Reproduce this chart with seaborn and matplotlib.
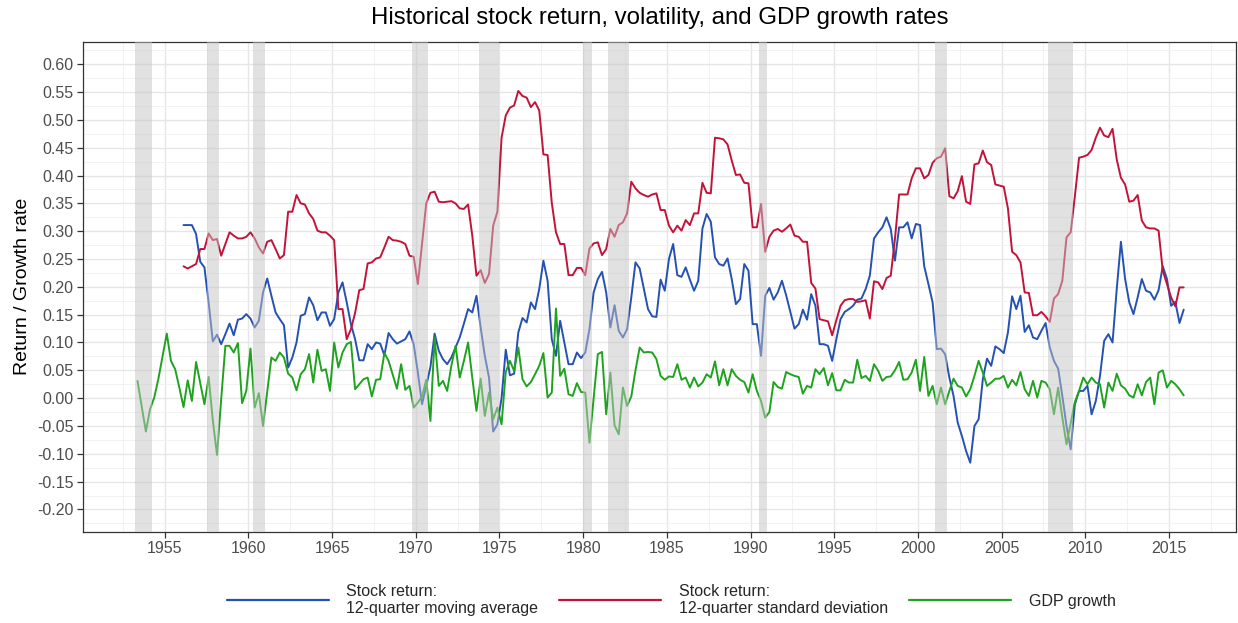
import numpy as np
import pandas as pd
import matplotlib
matplotlib.use("Agg")
import matplotlib.pyplot as plt
import seaborn as sns
from matplotlib.ticker import MultipleLocator, FuncFormatter
from matplotlib.lines import Line2D

# ---------------- data ----------------
gdp_start = 1953.375        # first quarterly observation of GDP growth
stock_start = 1956.125      # first quarterly observation of the stock series

gdp_growth = [
    0.031, -0.015, -0.060, -0.020, 0.001, 0.035, 0.075, 0.116, 0.067, 0.052,
    0.019, -0.016, 0.032, -0.005, 0.065, 0.027, -0.011, 0.038, -0.040, -0.102,
    -0.002, 0.094, 0.094, 0.082, 0.099, -0.009, 0.013, 0.089, -0.017, 0.009,
    -0.050, 0.012, 0.073, 0.067, 0.082, 0.073, 0.044, 0.037, 0.014, 0.043,
    0.052, 0.079, 0.028, 0.087, 0.049, 0.052, 0.013, 0.100, 0.055, 0.082,
    0.097, 0.101, 0.016, 0.025, 0.034, 0.037, 0.003, 0.033, 0.034, 0.081,
    0.067, 0.042, 0.017, 0.061, 0.015, 0.022, -0.017, -0.008, 0.003, 0.033,
    -0.041, 0.109, 0.022, 0.031, 0.013, 0.058, 0.094, 0.037, 0.067, 0.100,
    0.037, -0.023, 0.035, -0.032, 0.010, -0.038, -0.017, -0.047, 0.047, 0.067,
    0.049, 0.091, 0.034, 0.021, 0.029, 0.043, 0.058, 0.081, 0.001, 0.010,
    0.161, 0.040, 0.053, 0.007, 0.004, 0.027, 0.011, 0.010, -0.080, 0.000,
    0.079, 0.083, -0.029, 0.046, -0.049, -0.065, 0.019, -0.014, 0.003, 0.050,
    0.091, 0.082, 0.083, 0.082, 0.070, 0.040, 0.033, 0.039, 0.038, 0.061,
    0.033, 0.037, 0.019, 0.037, 0.021, 0.028, 0.043, 0.037, 0.066, 0.023,
    0.052, 0.023, 0.052, 0.040, 0.033, 0.029, 0.010, 0.043, 0.013, -0.005,
    -0.035, -0.025, 0.029, 0.020, 0.017, 0.047, 0.043, 0.040, 0.038, 0.008,
    0.022, 0.019, 0.052, 0.043, 0.054, 0.023, 0.045, 0.014, 0.014, 0.033,
    0.028, 0.028, 0.069, 0.036, 0.040, 0.031, 0.061, 0.049, 0.031, 0.038,
    0.039, 0.050, 0.065, 0.033, 0.034, 0.046, 0.069, 0.013, 0.074, 0.004,
    0.022, -0.011, 0.019, -0.011, 0.013, 0.035, 0.022, 0.019, 0.003, 0.016,
    0.040, 0.067, 0.046, 0.022, 0.028, 0.035, 0.035, 0.040, 0.019, 0.033,
    0.023, 0.047, 0.016, 0.004, 0.031, 0.001, 0.031, 0.028, 0.016, -0.029,
    0.019, -0.035, -0.083, -0.045, -0.007, 0.013, 0.037, 0.025, 0.037, 0.028,
    0.025, -0.017, 0.028, 0.013, 0.044, 0.023, 0.017, 0.005, 0.001, 0.025,
    0.005, 0.029, 0.037, -0.011, 0.046, 0.050, 0.019, 0.031, 0.025, 0.016,
    0.005,
]

return_ma = [
    0.311, 0.311, 0.311, 0.295, 0.245, 0.235, 0.172, 0.102, 0.114, 0.097,
    0.115, 0.134, 0.113, 0.141, 0.143, 0.151, 0.143, 0.127, 0.139, 0.190,
    0.215, 0.184, 0.154, 0.142, 0.131, 0.055, 0.073, 0.100, 0.148, 0.151,
    0.181, 0.167, 0.140, 0.154, 0.154, 0.130, 0.142, 0.190, 0.208, 0.172,
    0.133, 0.106, 0.068, 0.068, 0.097, 0.088, 0.100, 0.098, 0.077, 0.117,
    0.106, 0.098, 0.102, 0.106, 0.120, 0.097, 0.046, -0.011, 0.022, 0.056,
    0.116, 0.085, 0.070, 0.061, 0.073, 0.091, 0.109, 0.134, 0.160, 0.154,
    0.184, 0.127, 0.076, 0.037, -0.060, -0.047, 0.000, 0.087, 0.041, 0.044,
    0.118, 0.144, 0.136, 0.172, 0.160, 0.196, 0.247, 0.211, 0.106, 0.076,
    0.139, 0.100, 0.061, 0.061, 0.082, 0.072, 0.082, 0.124, 0.190, 0.214,
    0.227, 0.190, 0.127, 0.167, 0.121, 0.109, 0.124, 0.181, 0.244, 0.233,
    0.196, 0.160, 0.147, 0.146, 0.213, 0.193, 0.250, 0.277, 0.221, 0.218,
    0.235, 0.213, 0.193, 0.211, 0.305, 0.331, 0.317, 0.253, 0.241, 0.238,
    0.251, 0.214, 0.169, 0.178, 0.241, 0.229, 0.133, 0.133, 0.076, 0.184,
    0.198, 0.177, 0.190, 0.211, 0.185, 0.155, 0.125, 0.133, 0.159, 0.141,
    0.187, 0.166, 0.097, 0.097, 0.094, 0.067, 0.106, 0.142, 0.155, 0.160,
    0.166, 0.177, 0.179, 0.196, 0.220, 0.287, 0.298, 0.307, 0.325, 0.304,
    0.247, 0.307, 0.307, 0.316, 0.287, 0.313, 0.311, 0.237, 0.205, 0.172,
    0.088, 0.089, 0.079, 0.037, 0.004, -0.044, -0.068, -0.095, -0.116, -0.050,
    -0.038, 0.034, 0.071, 0.058, 0.093, 0.088, 0.081, 0.118, 0.183, 0.160,
    0.184, 0.119, 0.131, 0.109, 0.106, 0.121, 0.135, 0.091, 0.067, 0.053,
    0.004, -0.050, -0.092, -0.011, 0.013, 0.013, 0.022, -0.029, -0.005, 0.040,
    0.103, 0.115, 0.100, 0.196, 0.281, 0.214, 0.172, 0.151, 0.181, 0.214,
    0.193, 0.190, 0.177, 0.194, 0.237, 0.214, 0.166, 0.173, 0.135, 0.159,
]

return_sd = [
    0.237, 0.233, 0.237, 0.241, 0.268, 0.268, 0.296, 0.284, 0.286, 0.256,
    0.277, 0.298, 0.292, 0.287, 0.287, 0.290, 0.298, 0.287, 0.271, 0.260,
    0.281, 0.284, 0.268, 0.251, 0.257, 0.335, 0.335, 0.365, 0.350, 0.348,
    0.332, 0.322, 0.301, 0.298, 0.298, 0.292, 0.284, 0.160, 0.160, 0.106,
    0.124, 0.153, 0.194, 0.196, 0.242, 0.244, 0.251, 0.253, 0.271, 0.290,
    0.284, 0.283, 0.281, 0.277, 0.256, 0.254, 0.205, 0.277, 0.350, 0.369,
    0.371, 0.353, 0.352, 0.353, 0.354, 0.350, 0.341, 0.340, 0.348, 0.292,
    0.220, 0.230, 0.207, 0.223, 0.310, 0.335, 0.468, 0.508, 0.522, 0.526,
    0.552, 0.543, 0.540, 0.523, 0.532, 0.517, 0.438, 0.437, 0.351, 0.298,
    0.277, 0.277, 0.221, 0.221, 0.234, 0.234, 0.221, 0.269, 0.278, 0.280,
    0.257, 0.268, 0.304, 0.290, 0.311, 0.316, 0.332, 0.389, 0.377, 0.369,
    0.365, 0.362, 0.366, 0.368, 0.338, 0.338, 0.310, 0.298, 0.310, 0.301,
    0.320, 0.311, 0.332, 0.332, 0.387, 0.369, 0.368, 0.468, 0.467, 0.465,
    0.456, 0.427, 0.401, 0.402, 0.387, 0.386, 0.307, 0.307, 0.349, 0.263,
    0.290, 0.301, 0.304, 0.299, 0.305, 0.312, 0.292, 0.290, 0.281, 0.281,
    0.207, 0.197, 0.142, 0.140, 0.138, 0.113, 0.140, 0.166, 0.176, 0.178,
    0.178, 0.173, 0.174, 0.176, 0.143, 0.210, 0.208, 0.196, 0.216, 0.220,
    0.286, 0.366, 0.366, 0.366, 0.395, 0.413, 0.413, 0.395, 0.401, 0.423,
    0.431, 0.434, 0.449, 0.363, 0.359, 0.372, 0.399, 0.353, 0.349, 0.420,
    0.422, 0.445, 0.424, 0.419, 0.384, 0.382, 0.380, 0.341, 0.263, 0.257,
    0.244, 0.190, 0.189, 0.149, 0.149, 0.155, 0.147, 0.137, 0.179, 0.187,
    0.211, 0.289, 0.298, 0.363, 0.432, 0.434, 0.437, 0.446, 0.468, 0.486,
    0.472, 0.469, 0.484, 0.429, 0.396, 0.384, 0.353, 0.355, 0.365, 0.319,
    0.307, 0.305, 0.305, 0.301, 0.229, 0.205, 0.181, 0.165, 0.199, 0.199,
]

recession_start = [1953.25, 1957.50, 1960.25, 1969.75, 1973.75, 1980.00,
                   1981.50, 1990.50, 2001.00, 2007.75]
recession_end = [1954.25, 1958.25, 1961.00, 1970.75, 1975.00, 1980.50,
                 1982.75, 1991.00, 2001.75, 2009.25]

series_labels = ["Stock return:\n12-quarter moving average",
                 "Stock return:\n12-quarter standard deviation",
                 "GDP growth"]
series_colors = ["#2451b2", "#c2133a", "#1fa31f"]

title = "Historical stock return, volatility, and GDP growth rates"
y_label = "Return / Growth rate"
x_ticks = [1955, 1960, 1965, 1970, 1975, 1980, 1985, 1990, 1995, 2000, 2005, 2010, 2015]
y_ticks = [-0.20, -0.15, -0.10, -0.05, 0.00, 0.05, 0.10, 0.15, 0.20,
           0.25, 0.30, 0.35, 0.40, 0.45, 0.50, 0.55, 0.60]

# ---------------- tidy frame ----------------
gdp_time = gdp_start + 0.25 * np.arange(len(gdp_growth))
stock_time = stock_start + 0.25 * np.arange(len(return_ma))
df = pd.concat([
    pd.DataFrame({"year": stock_time, "value": return_ma, "series": series_labels[0]}),
    pd.DataFrame({"year": stock_time, "value": return_sd, "series": series_labels[1]}),
    pd.DataFrame({"year": gdp_time, "value": gdp_growth, "series": series_labels[2]}),
], ignore_index=True)

# ---------------- plot ----------------
sns.set_theme(style="white")
plt.rcParams["font.family"] = ["Liberation Sans", "DejaVu Sans"]
plt.rcParams["axes.unicode_minus"] = False

W, H = 1238, 623
fig = plt.figure(figsize=(W / 100, H / 100), dpi=100)
ax = fig.add_axes([83 / W, 1 - 531.7 / H, (1236 - 83) / W, (531.7 - 42) / H])

sns.lineplot(data=df, x="year", y="value", hue="series", hue_order=series_labels,
             palette=series_colors, linewidth=1.4, ax=ax, legend=False,
             estimator=None, sort=False, zorder=2)

for s, e in zip(recession_start, recession_end):
    ax.axvspan(s, e, color="#c4c4c4", alpha=0.5, lw=0, zorder=3)

ax.set_xlim(1950.12, 2019.0)
ax.set_ylim(-0.24, 0.64)
ax.set_xticks(x_ticks)
ax.xaxis.set_minor_locator(MultipleLocator(2.5))
ax.set_yticks(y_ticks)
ax.yaxis.set_minor_locator(MultipleLocator(0.025))
ax.yaxis.set_major_formatter(FuncFormatter(
    lambda v, p: "0.00" if abs(v) < 1e-9 else f"{v:.2f}"))

ax.grid(which="major", color="#e6e6e6", linewidth=1.0, zorder=0)
ax.grid(which="minor", color="#f0f0f0", linewidth=0.6, zorder=0)
ax.set_axisbelow(True)

for sp in ax.spines.values():
    sp.set_color("#333333")
    sp.set_linewidth(0.9)

ax.tick_params(axis="both", which="major", length=4, width=0.9, color="#333333",
               labelsize=11.5, labelcolor="#4d4d4d", pad=3, direction="out",
               bottom=True, left=True)
ax.tick_params(axis="both", which="minor", length=0)

ax.set_xlabel("")
ax.set_ylabel(y_label, fontsize=14, color="black", labelpad=4)
fig.text((83 + 1236) / 2 / W, 1 - 18 / H, title, ha="center", va="center",
         fontsize=17.3, color="black")

handles = [Line2D([0], [0], color=c, lw=1.6) for c in series_colors]
fig.legend(handles, series_labels, loc="center", bbox_to_anchor=(0.542, 0.037),
           ncol=3, frameon=False, fontsize=11.5, handlelength=6.4,
           handletextpad=1.1, columnspacing=1.3)

fig.savefig("out.png", dpi=100)
